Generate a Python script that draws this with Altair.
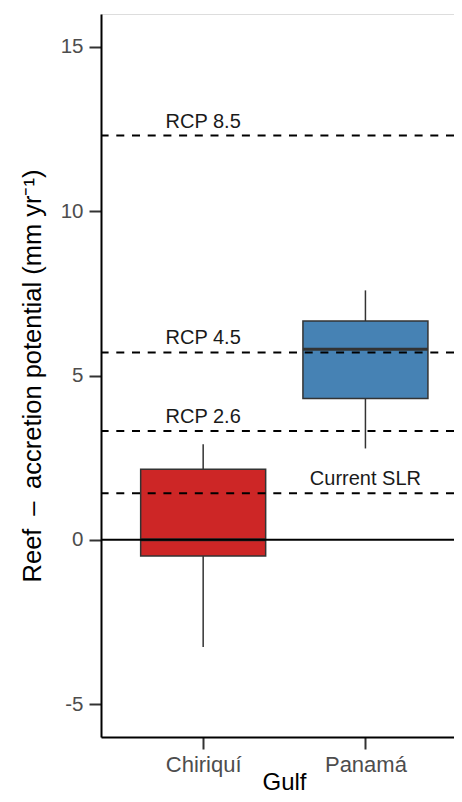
import altair as alt
import pandas as pd

# ---- data ----
gulfs = ["Chiriquí", "Panamá"]
whisker_low = [-3.26, 2.78]
q1 = [-0.49, 4.30]
median = [0.0, 5.80]
q3 = [2.15, 6.66]
whisker_high = [2.91, 7.59]
box_colors = ["#CD2626", "#4682B4"]

ref_labels = ["RCP 8.5", "RCP 4.5", "RCP 2.6", "Current SLR"]
ref_values = [12.3, 5.70, 3.31, 1.42]
ref_label_at = ["Chiriquí", "Chiriquí", "Chiriquí", "Panamá"]

y_ticks = [-5, 0, 5, 10, 15]

pos = {g: i + 1 for i, g in enumerate(gulfs)}

box_df = pd.DataFrame({
    "gulf": gulfs, "pos": [pos[g] for g in gulfs], "lo": whisker_low, "q1": q1,
    "med": median, "q3": q3, "hi": whisker_high,
})
ref_df = pd.DataFrame({"label": ref_labels, "value": ref_values,
                       "pos": [pos[g] for g in ref_label_at]})
zero_df = pd.DataFrame({"value": [0]})

FONT = "Liberation Sans"
W, H = 353, 723

label_expr = " : ".join(
    [f"datum.value == {pos[g]} ? '{g}'" for g in gulfs[:-1]] + [f"'{gulfs[-1]}'"]
)

xscale = alt.Scale(domain=[0.4012, 2.515], nice=False, zero=False)
yscale = alt.Scale(domain=[-6, 16], nice=False, zero=False)
cscale = alt.Scale(domain=gulfs, range=box_colors)

x_axis = alt.Axis(title="Gulf", values=list(pos.values()), labelExpr=label_expr,
                  labelAngle=0, labelFontSize=22, labelColor="#4D4D4D", labelFont=FONT,
                  labelPadding=5, labelFlush=False, labelOverlap=False,
                  titleFont=FONT, titleFontSize=24, titleFontWeight="normal",
                  titleColor="#000000", titleBaseline="bottom", titleY=57,
                  titleX=183,
                  domainColor="#000000", domainWidth=2,
                  tickColor="#333333", tickWidth=2, tickSize=12, grid=False)

y_axis = alt.Axis(title="Reef\u2002–\u2002accretion potential (mm yr⁻¹)", values=y_ticks,
                  labelExpr="'' + datum.value", labelFontSize=20.5,
                  labelColor="#4D4D4D", labelFont=FONT, labelPadding=6,
                  titleFont=FONT, titleFontSize=25.5, titleFontWeight="normal",
                  titleColor="#000000", titlePadding=15,
                  domainColor="#000000", domainWidth=2,
                  tickColor="#333333", tickWidth=2, tickSize=12, grid=False)

base = alt.Chart(box_df)

whiskers = base.mark_rule(color="#333333", strokeWidth=1.5).encode(
    x=alt.X("pos:Q", scale=xscale, axis=x_axis),
    y=alt.Y("lo:Q", scale=yscale, axis=y_axis),
    y2="hi:Q",
)

boxes = base.mark_bar(size=125, stroke="#333333", strokeWidth=1.5, opacity=1).encode(
    x=alt.X("pos:Q", scale=xscale),
    y=alt.Y("q1:Q", scale=yscale),
    y2="q3:Q",
    color=alt.Color("gulf:N", scale=cscale, legend=None),
)

medians = base.mark_tick(size=125, thickness=3, color="#333333", opacity=1,
                         orient="horizontal").encode(
    x=alt.X("pos:Q", scale=xscale),
    y=alt.Y("med:Q", scale=yscale),
)

zero_line = alt.Chart(zero_df).mark_rule(color="#000000", strokeWidth=2).encode(
    y=alt.Y("value:Q", scale=yscale)
)

ref_lines = alt.Chart(ref_df).mark_rule(color="#000000", strokeWidth=2,
                                        strokeDash=[8, 7.7]).encode(
    y=alt.Y("value:Q", scale=yscale)
)

ref_text = alt.Chart(ref_df).mark_text(font=FONT, fontSize=20, color="#1A1A1A",
                                       baseline="alphabetic", align="center", dy=-8).encode(
    x=alt.X("pos:Q", scale=xscale),
    y=alt.Y("value:Q", scale=yscale),
    text="label:N",
)

chart = alt.layer(whiskers, boxes, medians, zero_line, ref_lines, ref_text).properties(
    width=W, height=H,
    padding={"left": 93, "top": 6, "right": 0, "bottom": 57},
    autosize=alt.AutoSizeParams(type="none"),
).configure_view(stroke=None).configure(background="#FFFFFF")

chart.save("out.html", embed_options={"renderer": "svg", "actions": False})
